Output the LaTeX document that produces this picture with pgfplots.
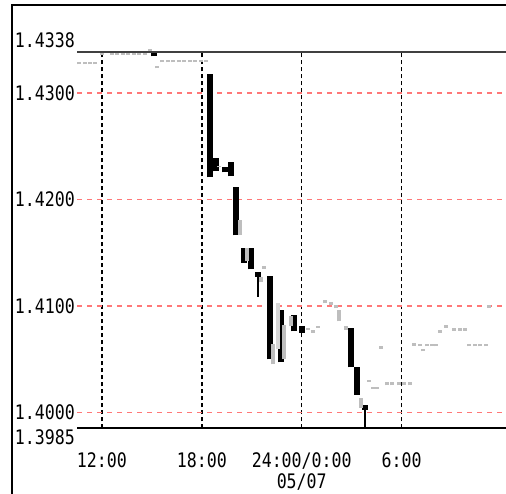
\documentclass[border=0pt]{standalone}
\usepackage{pgfplots}
\pgfplotsset{compat=1.18}
\usepackage{fontspec}
\setmainfont{DejaVu Sans Mono}[FakeStretch=0.83]
\definecolor{candlegray}{RGB}{190,190,190}
\definecolor{lightgray2}{RGB}{215,215,215}
\definecolor{gridred}{RGB}{255,120,120}
\begin{document}
\begin{tikzpicture}
\useasboundingbox (0pt,0pt) rectangle (506pt,494pt);
\draw[line width=2pt] (12pt,0pt) -- (12pt,489pt) -- (506pt,489pt);
\begin{axis}[
  at={(77pt,65.7pt)}, anchor=south west,
  scale only axis, width=429pt, height=376pt,
  xmin=10.5, xmax=36.27, ymin=1.3985, ymax=1.4338,
  axis line style={draw=none},
  major tick length=0pt,
  xtick={12,18,24,30},
  xticklabels={12:00,18:00,{24:00/0:00\\05/07},6:00},
  ytick={1.40,1.41,1.42,1.43},
  yticklabels={1.4000,1.4100,1.4200,1.4300},
  ticklabel style={font=\fontsize{20}{21}\selectfont, inner sep=0pt},
  yticklabel style={anchor=east, xshift=-2pt},
  xticklabel style={anchor=north, yshift=-24.5pt, align=center},
  grid=major,
  x grid style={black, line width=1.5pt, dash pattern=on 4pt off 3pt},
  y grid style={gridred, line width=1.5pt, dash pattern=on 5pt off 5pt},
  clip=false,
  unbounded coords=jump,
]
% black candles (bodies)
\addplot[black, line width=6pt, line cap=butt] table {
x y
15.14 1.43341
15.14 1.43369
nan nan
18.51 1.42205
18.51 1.43172
nan nan
18.87 1.42261
18.87 1.42392
nan nan
19.38 1.42252
19.38 1.42299
nan nan
19.74 1.42214
19.74 1.42346
nan nan
20.07 1.41660
20.07 1.42120
nan nan
20.55 1.41406
20.55 1.41547
nan nan
20.97 1.41341
20.97 1.41538
nan nan
21.36 1.41275
21.36 1.41322
nan nan
22.08 1.40496
22.08 1.41284
nan nan
22.75 1.40468
22.75 1.40956
nan nan
23.56 1.40759
23.56 1.40909
nan nan
24.01 1.40749
24.01 1.40806
nan nan
26.98 1.40421
26.98 1.40796
nan nan
27.32 1.40167
27.32 1.40430
nan nan
27.83 1.40026
27.83 1.40073
};
% black wicks
\addplot[black, line width=2pt, line cap=butt] table {
x y
21.36 1.41087
21.36 1.41275
nan nan
27.83 1.39857
27.83 1.40026
};
% light grey candle
\addplot[lightgray2, line width=4pt, line cap=butt] table {
x y
22.57 1.40590
22.57 1.41022
};
% grey candles
\addplot[candlegray, line width=4pt, line cap=butt] table {
x y
10.63 1.43266
10.63 1.43285
nan nan
10.96 1.43266
10.96 1.43285
nan nan
11.29 1.43266
11.29 1.43285
nan nan
11.59 1.43266
11.59 1.43285
nan nan
12.01 1.43355
12.01 1.43374
nan nan
12.58 1.43355
12.58 1.43374
nan nan
12.91 1.43355
12.91 1.43374
nan nan
13.24 1.43355
13.24 1.43374
nan nan
13.58 1.43355
13.58 1.43374
nan nan
13.91 1.43355
13.91 1.43374
nan nan
14.24 1.43355
14.24 1.43374
nan nan
14.57 1.43355
14.57 1.43374
nan nan
14.87 1.43393
14.87 1.43411
nan nan
15.29 1.43228
15.29 1.43247
nan nan
15.62 1.43285
15.62 1.43303
nan nan
15.95 1.43285
15.95 1.43303
nan nan
16.28 1.43285
16.28 1.43303
nan nan
16.61 1.43285
16.61 1.43303
nan nan
16.94 1.43285
16.94 1.43303
nan nan
17.27 1.43285
17.27 1.43303
nan nan
17.60 1.43285
17.60 1.43303
nan nan
17.94 1.43285
17.94 1.43303
nan nan
18.27 1.43285
18.27 1.43303
nan nan
19.05 1.42299
19.05 1.42317
nan nan
20.28 1.41660
20.28 1.41801
nan nan
20.73 1.41416
20.73 1.41538
nan nan
21.54 1.41219
21.54 1.41275
nan nan
21.75 1.41350
21.75 1.41369
nan nan
22.26 1.40449
22.26 1.40637
nan nan
22.96 1.40496
22.96 1.40824
nan nan
23.38 1.40806
23.38 1.40900
nan nan
24.37 1.40777
24.37 1.40796
nan nan
24.67 1.40749
24.67 1.40777
nan nan
24.97 1.40796
24.97 1.40815
nan nan
25.39 1.41022
25.39 1.41050
nan nan
25.75 1.41003
25.75 1.41031
nan nan
26.05 1.40975
26.05 1.41012
nan nan
26.23 1.40853
26.23 1.40965
nan nan
26.68 1.40777
26.68 1.40806
nan nan
27.53 1.40045
27.53 1.40139
nan nan
28.04 1.40289
28.04 1.40308
nan nan
28.28 1.40223
28.28 1.40242
nan nan
28.55 1.40223
28.55 1.40242
nan nan
28.76 1.40599
28.76 1.40618
nan nan
29.15 1.40252
29.15 1.40280
nan nan
29.45 1.40252
29.45 1.40280
nan nan
29.87 1.40252
29.87 1.40280
nan nan
30.17 1.40252
30.17 1.40280
nan nan
30.53 1.40252
30.53 1.40280
nan nan
30.77 1.40627
30.77 1.40655
nan nan
31.10 1.40627
31.10 1.40646
nan nan
31.28 1.40571
31.28 1.40590
nan nan
31.50 1.40618
31.50 1.40646
nan nan
31.80 1.40618
31.80 1.40646
nan nan
32.04 1.40618
32.04 1.40646
nan nan
32.31 1.40749
32.31 1.40777
nan nan
32.67 1.40796
32.67 1.40824
nan nan
33.12 1.40768
33.12 1.40796
nan nan
33.48 1.40768
33.48 1.40796
nan nan
33.78 1.40768
33.78 1.40787
nan nan
34.02 1.40618
34.02 1.40646
nan nan
34.38 1.40618
34.38 1.40646
nan nan
34.68 1.40618
34.68 1.40646
nan nan
35.04 1.40618
35.04 1.40646
nan nan
35.22 1.40984
35.22 1.41003
};
% top and bottom edges of the plot area
\draw[line width=2pt, black!75] (rel axis cs:0,1) -- (rel axis cs:1,1);
\draw[line width=1.7pt, black] (rel axis cs:0,0) -- (rel axis cs:1,0);
% end values of the y range
\node[anchor=east, inner sep=0pt, font=\fontsize{20}{21}\selectfont]
  at ([xshift=-2pt,yshift=12pt]rel axis cs:0,1) {1.4338};
\node[anchor=east, inner sep=0pt, font=\fontsize{20}{21}\selectfont]
  at ([xshift=-2pt,yshift=-9pt]rel axis cs:0,0) {1.3985};
\end{axis}
\end{tikzpicture}
\end{document}
